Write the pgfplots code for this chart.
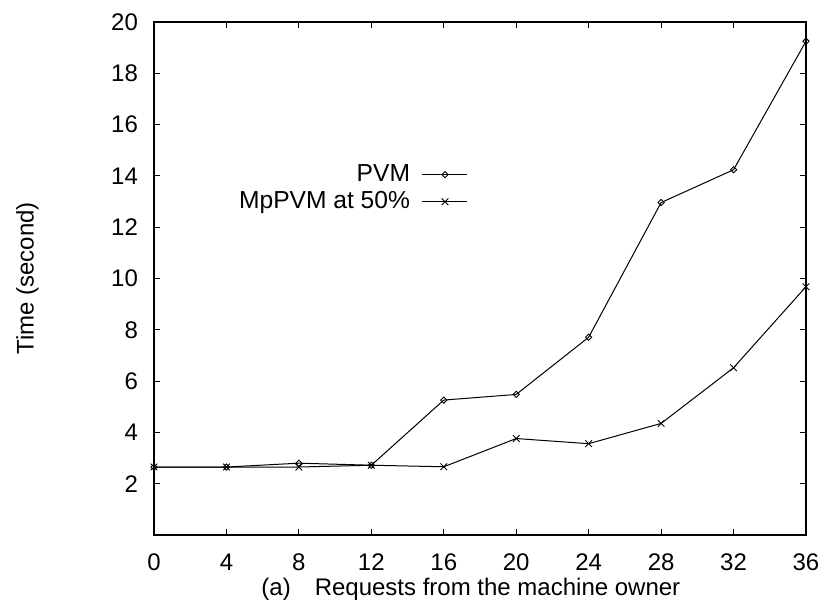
\documentclass[border=0pt]{standalone}
\usepackage{fontspec}
\setmainfont{Liberation Sans}
\usepackage{pgfplots}
\pgfplotsset{compat=1.18}

% PVM vs MpPVM timings
\pgfplotstableread{
x pvm mppvm
0 2.65 2.65
4 2.65 2.65
8 2.80 2.65
12 2.72 2.72
16 5.26 2.66
20 5.48 3.76
24 7.71 3.56
28 12.96 4.35
32 14.24 6.52
36 19.25 9.68
}\timing

\begin{document}
\begin{tikzpicture}[font=\fontsize{12}{14}\selectfont]
% page = 826x605 px, 1px = 0.5pt, axis box at px (154..806, 22..535)
\path[use as bounding box] (-77pt,-35pt) rectangle (336pt,267.5pt);
\begin{axis}[
  at={(0pt,0pt)}, anchor=south west,
  scale only axis, width=326pt, height=256.5pt,
  xmin=0, xmax=36, ymin=0, ymax=20,
  xtick={0,4,...,36}, ytick={2,4,...,20},
  tick align=inside, tick pos=both, major tick length=3pt,
  axis line style={line width=0.6pt}, every tick/.style={black, line width=0.5pt},
  /pgf/number format/assume math mode=true,
  tick label style={font=\fontsize{12}{14}\selectfont},
  yticklabel shift={4.5pt}, xticklabel shift={6pt},
  xlabel={(a)\hspace{12pt}Requests from the machine owner},
  xlabel style={at={(axis description cs:0.486,0)}, anchor=center, yshift=-27pt},
  ylabel={Time (second)},
  ylabel style={at={(axis description cs:-0.194,0.5)}, anchor=center, rotate=0},
  legend plot pos=right, legend cell align=right,
  legend style={draw=none, fill=none, inner sep=0pt, outer sep=0pt,
    at={(axis description cs:0.4816,0.676)}, anchor=east,
    nodes={inner sep=1pt, text height=9pt, text depth=2.5pt},
    /tikz/column sep=5pt, font=\fontsize{12.3}{14}\selectfont},
  legend image code/.code={
    \draw[#1, mark=none] (0pt,0pt) -- (22.5pt,0pt);
    \draw[#1] plot coordinates {(11.25pt,0pt)};
  },
]
\addplot[black, line width=0.5pt, mark=square, mark size=1.1pt,
  mark options={solid, rotate=45, line width=0.45pt}] table[x=x, y=pvm] {\timing};
\addlegendentry{PVM}
\addplot[black, line width=0.5pt, mark=x, mark size=2.35pt,
  mark options={solid, line width=0.45pt}] table[x=x, y=mppvm] {\timing};
\addlegendentry{MpPVM at 50\%}
\end{axis}
\end{tikzpicture}
\end{document}
